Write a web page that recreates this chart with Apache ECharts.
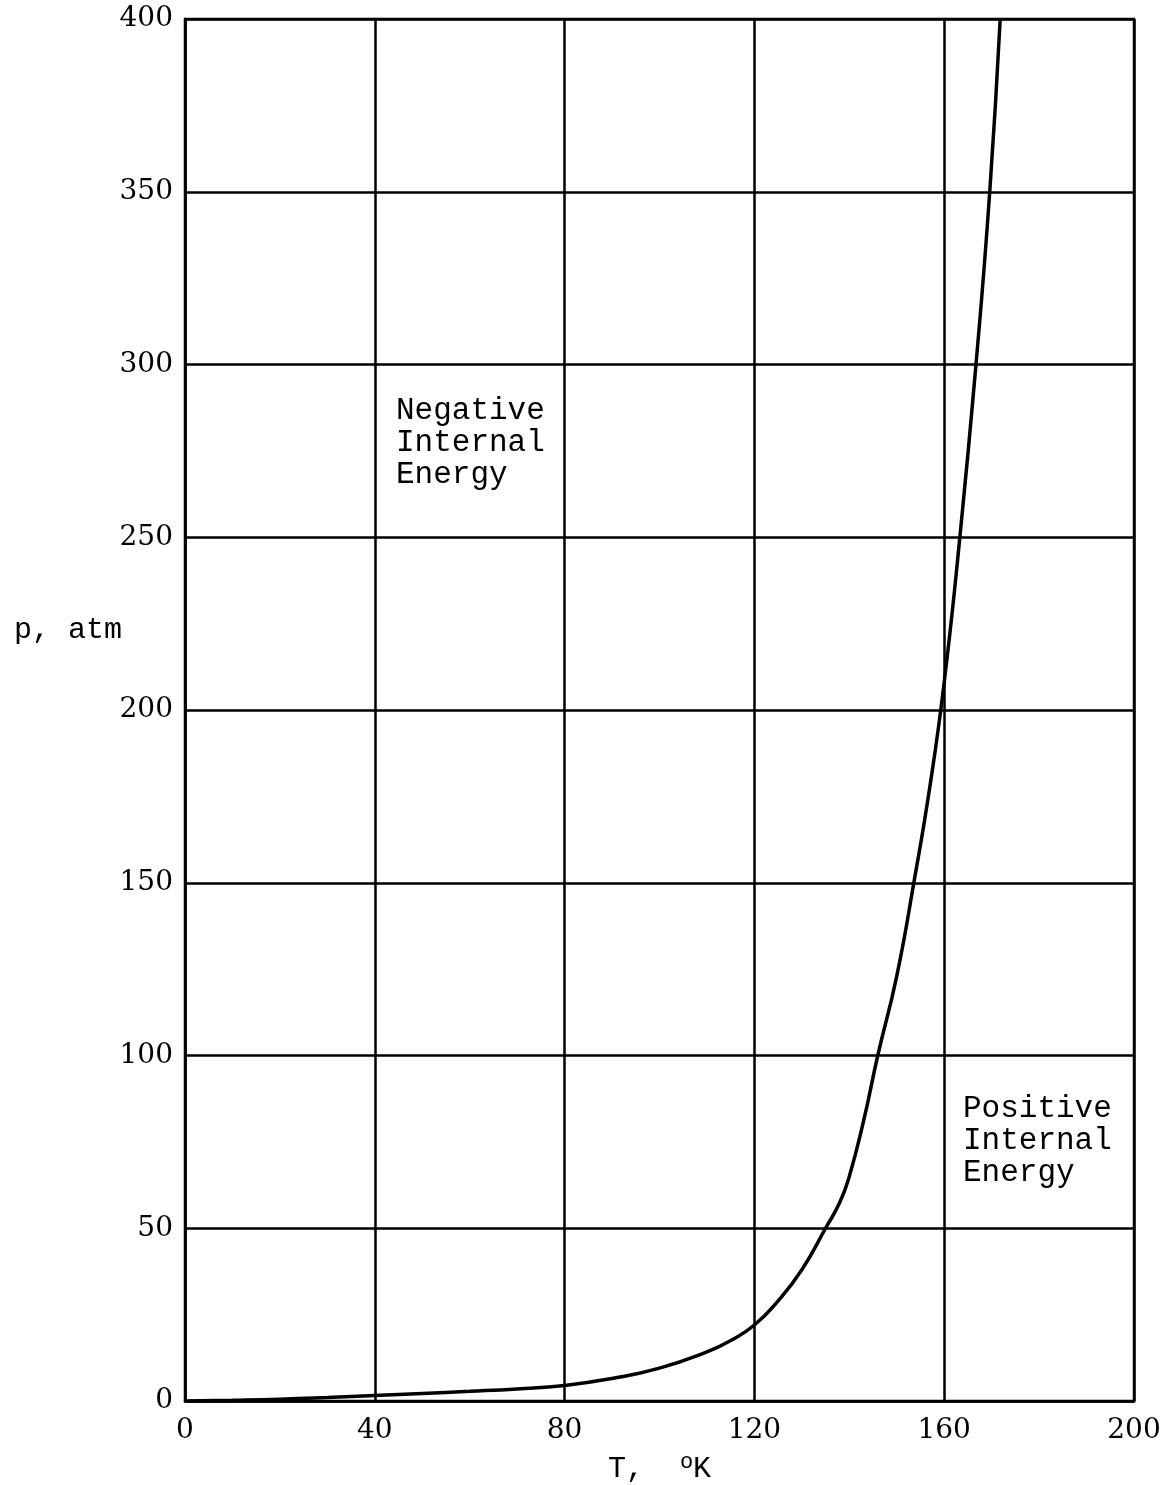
<!DOCTYPE html>
<html><head><meta charset="utf-8">
<script src="https://cdn.jsdelivr.net/npm/echarts@6/dist/echarts.min.js"></script>
<style>html,body{margin:0;padding:0;background:#fff}#c{width:1176px;height:1485px}</style>
</head><body><div id="c"></div>
<script>
const temperatures = [0,10,20,30,40,50,60,70,80,90,100,110,115,120,125,130,135,138,140,143,146,150,153.6,157,160,163.3,166.7,169.6,171.8];
const pressures    = [0,0.2,0.5,1.0,1.6,2.2,2.8,3.5,4.5,6.5,9.5,14.2,17.5,22,29,38,50,57.5,65,81,100,123,150,178,208,250,300,350,400];
const xTicks = [0,40,80,120,160,200];
const yTicks = [0,50,100,150,200,250,300,350,400];
const yAxisTitle = 'p, atm';
const regionLabels = ['Negative\nInternal\nEnergy', 'Positive\nInternal\nEnergy'];

const chart = echarts.init(document.getElementById('c'), null, {renderer:'canvas'});
const serif = 'DejaVu Serif';
const mono = 'Liberation Mono';
chart.setOption({
  backgroundColor:'#fff',
  animation:false,
  grid:{left:185,right:42,top:19,bottom:84,containLabel:false,outerBoundsMode:'none',show:true,borderColor:'#000',borderWidth:2.5,backgroundColor:'transparent'},
  xAxis:{type:'value',min:0,max:200,interval:40,
    name:'T,  {s|o}K',nameLocation:'middle',nameGap:50,nameMoveOverlap:false,
    nameTextStyle:{fontFamily:mono,fontSize:30,color:'#000',rich:{s:{fontFamily:mono,fontSize:22,color:'#000',verticalAlign:'top',padding:[0,0,14,0]}}},
    axisLine:{show:true,lineStyle:{color:'#000',width:2.5}},
    axisTick:{show:false},
    axisLabel:{fontFamily:serif,fontSize:28,color:'#000',margin:16,formatter:v=>xTicks.includes(v)?String(v):''},
    splitLine:{show:true,lineStyle:{color:'#000',width:2.5}}
  },
  yAxis:{type:'value',min:0,max:400,interval:50,
    axisLine:{show:true,lineStyle:{color:'#000',width:2.5}},
    axisTick:{show:false},
    axisLabel:{fontFamily:serif,fontSize:28,color:'#000',margin:12,formatter:v=>yTicks.includes(v)?String(v):''},
    splitLine:{show:true,lineStyle:{color:'#000',width:2.5}}
  },
  series:[{type:'line',data:temperatures.map((t,i)=>[t,pressures[i]]),
    smooth:0.5,showSymbol:false,symbol:'none',
    lineStyle:{color:'#000',width:3.5},z:5}],
  graphic:[
    {type:'text',left:14,top:615,style:{text:yAxisTitle,font:'30px "Liberation Mono"',fill:'#000'}},
    {type:'text',left:396,top:395,style:{text:regionLabels[0],font:'31px "Liberation Mono"',fill:'#000',lineHeight:32}},
    {type:'text',left:963,top:1093,style:{text:regionLabels[1],font:'31px "Liberation Mono"',fill:'#000',lineHeight:32}}
  ]
});
</script></body></html>
